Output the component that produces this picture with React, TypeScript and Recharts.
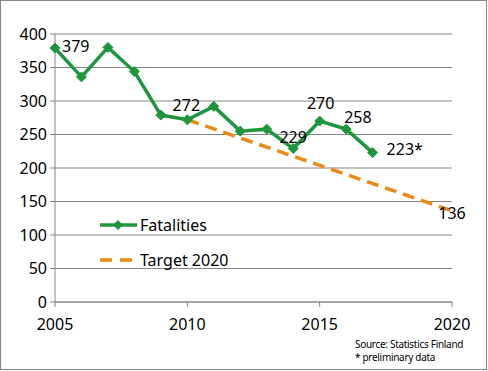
import React from 'react';
import { LineChart, Line, XAxis, YAxis, CartesianGrid, LabelList } from 'recharts';

const years = [2005, 2006, 2007, 2008, 2009, 2010, 2011, 2012, 2013, 2014, 2015, 2016, 2017, 2018, 2019, 2020];
const fatalities = [379, 336, 380, 344, 279, 272, 292, 255, 258, 229, 270, 258, 223, null, null, null];
const target2020 = [null, null, null, null, null, 272, null, null, null, null, null, null, null, null, null, 136];
const yTicks = [0, 50, 100, 150, 200, 250, 300, 350, 400];
const xTicks = [2005, 2010, 2015, 2020];

// which points get a value label, and the text suffix
const fatalityLabels: Record<number, string> = { 2005: '', 2010: '', 2014: '', 2015: '', 2016: '', 2017: '*' };
const targetLabels: Record<number, string> = { 2020: '' };

// label placement relative to the point
const labelPos: Record<number, { dx: number; dy: number; anchor: string }> = {
  2005: { dx: 7, dy: -2, anchor: 'start' },
  2010: { dx: -1, dy: -15, anchor: 'middle' },
  2014: { dx: 0, dy: -12, anchor: 'middle' },
  2015: { dx: 1, dy: -18, anchor: 'middle' },
  2016: { dx: -2, dy: -12, anchor: 'start' },
  2017: { dx: 14, dy: -4, anchor: 'start' },
  2020: { dx: 0, dy: 2, anchor: 'middle' },
};

const data = years.map((year, i) => ({
  year,
  fatalities: fatalities[i],
  target: target2020[i],
}));

const GREEN = '#1E963C';
const ORANGE = '#E98A17';
const FONT = '"Noto Sans", sans-serif';

const makeLabel = (labels: Record<number, string>) => (props: any) => {
  const { x, y, value, index } = props;
  const year = years[index];
  if (value == null || !(year in labels)) return null;
  const p = labelPos[year];
  return (
    <text
      x={x + p.dx}
      y={y + p.dy}
      textAnchor={p.anchor as any}
      dominantBaseline="central"
      fontSize={16}
      fontFamily={FONT}
      fill="#000"
    >
      {value + labels[year]}
    </text>
  );
};

const Diamond = (props: any) => {
  const { cx, cy, value } = props;
  if (value == null || cx == null) return null;
  const s = 5;
  return (
    <polygon
      key={`d-${cx}`}
      points={`${cx},${cy - s} ${cx + s},${cy} ${cx},${cy + s} ${cx - s},${cy}`}
      fill={GREEN}
      stroke={GREEN}
      strokeWidth={1}
    />
  );
};

export default function App() {
  return (
    <div style={{ position: 'relative', width: 488, height: 371, background: '#fff', fontFamily: FONT }}>
      <style>{`body{margin:0}`}</style>
      <div
        style={{
          position: 'absolute',
          left: 0,
          top: 0,
          width: 487,
          height: 370,
          border: '1px solid #868686',
          boxSizing: 'border-box',
        }}
      />
      <LineChart width={488} height={371} data={data} margin={{ top: 34, right: 36, bottom: 39, left: 8 }}>
        <CartesianGrid horizontal vertical={false} stroke="#868686" />
        <XAxis
          dataKey="year"
          type="number"
          domain={[2005, 2020]}
          ticks={xTicks}
          stroke="#868686"
          tickSize={5}
          height={30}
          tick={{ fill: '#000', fontSize: 16, fontFamily: FONT }}
          tickMargin={12}
        />
        <YAxis
          domain={[0, 400]}
          ticks={yTicks}
          width={47}
          stroke="#868686"
          tickSize={5}
          tickMargin={3}
          tick={{ fill: '#000', fontSize: 16, fontFamily: FONT }}
        />
        <Line
          dataKey="target"
          stroke={ORANGE}
          strokeWidth={3.5}
          strokeDasharray="12 7"
          dot={false}
          connectNulls
          isAnimationActive={false}
        >
          <LabelList dataKey="target" content={makeLabel(targetLabels)} />
        </Line>
        <Line
          dataKey="fatalities"
          stroke={GREEN}
          strokeWidth={3.5}
          dot={<Diamond />}
          isAnimationActive={false}
        >
          <LabelList dataKey="fatalities" content={makeLabel(fatalityLabels)} />
        </Line>
      </LineChart>

      <div style={{ position: 'absolute', left: 100, top: 213, fontSize: 16, color: '#000' }}>
        <div style={{ display: 'flex', alignItems: 'center', height: 24 }}>
          <svg width={40} height={12}>
            <line x1={0} y1={6} x2={37} y2={6} stroke={GREEN} strokeWidth={3.5} />
            <polygon points="18,1 23,6 18,11 13,6" fill={GREEN} />
          </svg>
          <span>Fatalities</span>
        </div>
        <div style={{ display: 'flex', alignItems: 'center', height: 24, marginTop: 11 }}>
          <svg width={40} height={12}>
            <line x1={0} y1={6} x2={34} y2={6} stroke={ORANGE} strokeWidth={3.5} strokeDasharray="12 8" />
          </svg>
          <span>Target 2020</span>
        </div>
      </div>

      <div
        style={{
          position: 'absolute',
          left: 355,
          top: 338,
          fontSize: 10,
          letterSpacing: -0.3,
          lineHeight: '13px',
          color: '#000',
        }}
      >
        <div>Source: Statistics Finland</div>
        <div>* preliminary data</div>
      </div>
    </div>
  );
}
